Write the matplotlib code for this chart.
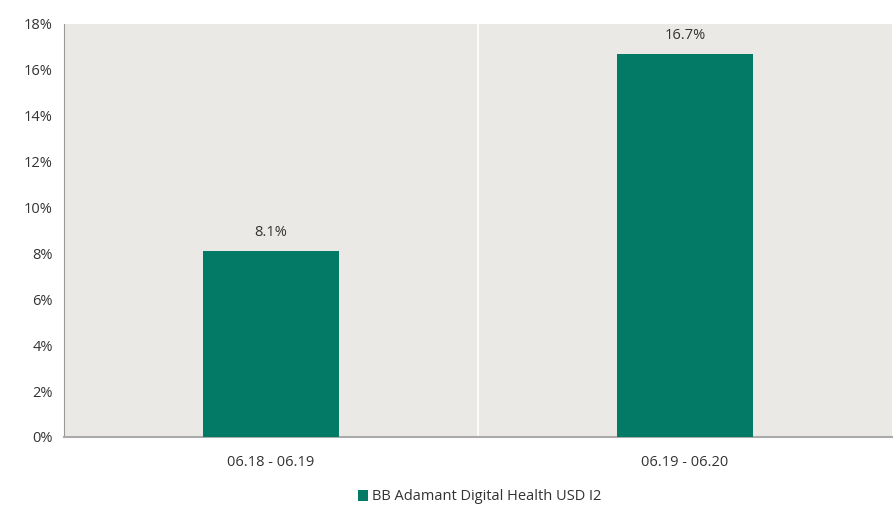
import matplotlib.pyplot as plt
from matplotlib.ticker import FuncFormatter

# data
periods = ['06.18 - 06.19', '06.19 - 06.20']
returns = [8.1, 16.7]
series_name = 'BB Adamant Digital Health USD I2'

plt.rcParams['font.family'] = ['Open Sans', 'DejaVu Sans']

bar_color = '#037A65'
bg_color = '#EAE9E5'
text_color = '#333333'

fig = plt.figure(figsize=(8.93, 5.05), dpi=100)
ax = fig.add_axes([0.0717, 0.1347, 0.9272, 0.8178])
ax.set_facecolor(bg_color)

x = list(range(len(periods)))
bars = ax.bar(x, returns, width=0.33, color=bar_color, label=series_name, zorder=3)

for xi, v in zip(x, returns):
    ax.annotate(f'{v:.1f}%', (xi, v), xytext=(0, 8), textcoords='offset points',
                ha='center', va='bottom', fontsize=10.5, color=text_color)

# white separator between categories
for i in range(1, len(periods)):
    ax.axvline(i - 0.5, color='white', linewidth=1.2, zorder=2)

ax.set_xlim(-0.5, len(periods) - 0.5)
ax.set_ylim(0, 18)
ax.set_yticks(range(0, 19, 2))
ax.yaxis.set_major_formatter(FuncFormatter(lambda v, p: f'{v:.0f}%'))
ax.set_xticks(x)
ax.set_xticklabels(periods)
ax.tick_params(axis='both', length=0, labelsize=10.5, colors=text_color)
ax.tick_params(axis='x', pad=13)
ax.tick_params(axis='y', pad=8)

for side in ['top', 'right']:
    ax.spines[side].set_visible(False)
ax.spines['left'].set_color('#999999')
ax.spines['left'].set_linewidth(0.8)
ax.spines['bottom'].set_color('#AAAAAA')
ax.spines['bottom'].set_linewidth(1.5)

leg = fig.legend(loc='lower center', bbox_to_anchor=(0.537, -0.025), frameon=False,
                 fontsize=10.5, handlelength=0.7, handleheight=0.7, handletextpad=0.3)
for t in leg.get_texts():
    t.set_color(text_color)

fig.savefig('out.png', dpi=100)
